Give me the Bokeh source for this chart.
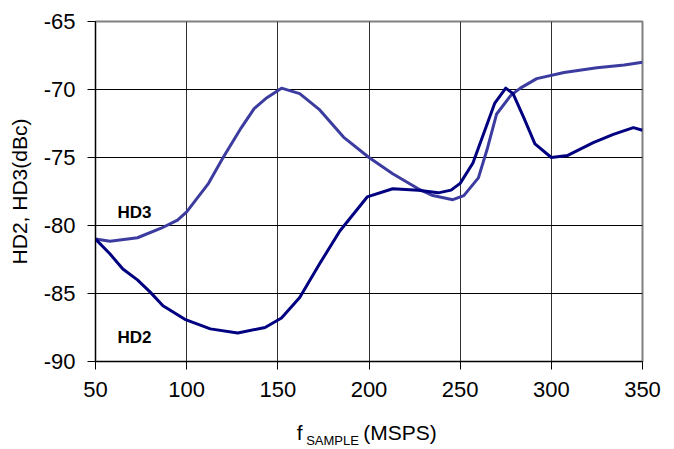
from bokeh.plotting import figure
from bokeh.models import Label, FixedTicker, Range1d, PrintfTickFormatter, LinearAxis
from bokeh.embed import file_html
from bokeh.resources import INLINE

# ---- data ----
hd3_x = [50, 58, 73, 86, 95, 100, 112, 120, 130, 137, 144, 152, 162, 173, 186, 200, 213, 227, 235, 246, 252, 260, 265, 270, 278, 283, 292, 307, 325, 340, 350]
hd3_y = [-81.0, -81.15, -80.9, -80.2, -79.6, -79.0, -76.9, -75.0, -72.8, -71.4, -70.6, -69.9, -70.3, -71.5, -73.5, -75.0, -76.2, -77.3, -77.8, -78.1, -77.8, -76.5, -74.3, -71.8, -70.4, -69.9, -69.2, -68.75, -68.4, -68.2, -68.0]

hd2_x = [50, 58, 65, 73, 80, 87, 99, 113, 128, 143, 152, 162, 173, 184, 199, 213, 227, 238, 245, 250, 257, 263, 269, 275, 279, 285, 291, 300, 309, 323, 334, 345, 350]
hd2_y = [-81.0, -82.1, -83.2, -84.0, -84.9, -85.9, -86.9, -87.6, -87.9, -87.5, -86.8, -85.3, -82.8, -80.4, -77.9, -77.3, -77.4, -77.6, -77.4, -76.9, -75.4, -73.2, -71.0, -69.9, -70.3, -72.1, -74.0, -75.0, -74.85, -73.9, -73.3, -72.8, -73.0]

x_ticks = [50, 100, 150, 200, 250, 300, 350]
y_ticks = [-90, -85, -80, -75, -70, -65]

# x-axis title pieces (text, anchor on the x scale)
xlabel_main = {162: "f", 217: "(MSPS)"}
xlabel_sub = {180: "SAMPLE"}

FONT = "Liberation Sans"

p = figure(frame_width=547, frame_height=340, output_backend="svg", toolbar_location=None,
           x_range=Range1d(50, 350), y_range=Range1d(-90, -65),
           min_border_left=95, min_border_right=32, min_border_top=21, min_border_bottom=0)
p.background_fill_color = "white"
p.border_fill_color = "white"
p.outline_line_color = "#808080"
p.outline_line_width = 2

# axes
p.xaxis.ticker = FixedTicker(ticks=x_ticks)
p.yaxis.ticker = FixedTicker(ticks=y_ticks)
p.xaxis.formatter = PrintfTickFormatter(format="%d")
p.yaxis.formatter = PrintfTickFormatter(format="%d")
for ax in (p.xaxis[0], p.yaxis[0]):
    ax.axis_line_color = "black"
    ax.axis_line_width = 1
    ax.major_tick_line_color = "black"
    ax.major_tick_out = 8
    ax.major_tick_in = 0
    ax.minor_tick_out = 0
    ax.minor_tick_in = 0
    ax.major_label_text_font = FONT
    ax.major_label_text_font_size = "22px"
    ax.major_label_text_color = "black"
p.xaxis.major_label_standoff = 12
p.yaxis.major_label_standoff = 12
p.yaxis.axis_label = "HD2, HD3(dBc)"
p.yaxis.axis_label_text_font = FONT
p.yaxis.axis_label_text_font_size = "21px"
p.yaxis.axis_label_text_font_style = "normal"
p.yaxis.axis_label_text_color = "black"
p.yaxis.axis_label_standoff = 10

def text_axis(labels, size, standoff):
    ax = LinearAxis(ticker=FixedTicker(ticks=list(labels.keys())),
                    major_label_overrides=labels)
    ax.axis_line_color = None
    ax.major_tick_line_color = None
    ax.major_tick_out = 0
    ax.major_tick_in = 0
    ax.minor_tick_line_color = None
    ax.major_label_text_font = FONT
    ax.major_label_text_font_size = size
    ax.major_label_text_color = "black"
    ax.major_label_standoff = standoff
    return ax

p.add_layout(text_axis(xlabel_main, "21px", 21), "below")
p.add_layout(text_axis(xlabel_sub, "13px", -14), "below")

# grid
p.xgrid.grid_line_color = "#303030"
p.xgrid.grid_line_width = 1
p.ygrid.grid_line_color = "black"
p.ygrid.grid_line_width = 1

# lines
p.line(hd3_x, hd3_y, line_color="#3c3ca0", line_width=3, line_join="round")
p.line(hd2_x, hd2_y, line_color="#000080", line_width=3, line_join="round")

# series labels
p.add_layout(Label(x=62.1, y=-79.04, text="HD3", text_font=FONT, text_font_size="17px",
                   text_font_style="bold", text_color="black", text_baseline="alphabetic"))
p.add_layout(Label(x=62.1, y=-88.24, text="HD2", text_font=FONT, text_font_size="17px",
                   text_font_style="bold", text_color="black", text_baseline="alphabetic"))

open("out.html", "w").write(file_html(p, INLINE))
